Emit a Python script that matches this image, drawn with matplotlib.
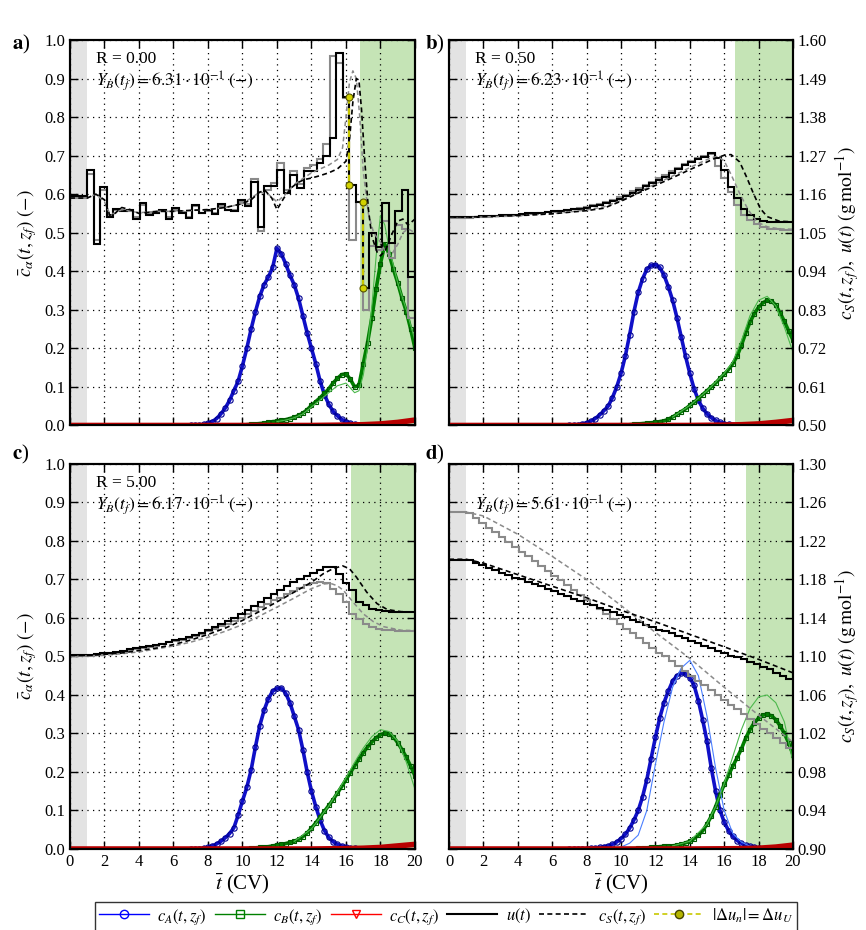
import numpy as np
import matplotlib.pyplot as plt
from matplotlib.lines import Line2D

plt.rcParams['font.family'] = ['Liberation Serif', 'DejaVu Serif']
plt.rcParams['mathtext.fontset'] = 'stix'
plt.rcParams['font.size'] = 12

# ---------------- data ----------------
# sampling times of the outlet concentrations (CV)
t_A = np.arange(7.0, 18.01, 0.25)
t_B = np.arange(10.0, 20.01, 0.25)
t_C = [0, 14, 16, 17, 18, 19, 20]
# control intervals of u(t): constant 0..1, then 50 intervals up to 20 CV
u_edges = np.concatenate(([0.0], np.linspace(1.0, 20.0, 51)))

# c_A(t, z_f)
cA_a = [0, 0, .001, .003, .006, .01, .018, .03, .045, .065,
        .09, .115, .155, .2, .25, .295, .335, .365, .385, .41,
        .46, .445, .42, .39, .365, .33, .285, .24, .2, .16,
        .115, .08, .055, .037, .025, .016, .01, .006, .004, .002,
        .001, .001, 0, 0, 0]
cA_b = [0, .001, .002, .004, .007, .011, .018, .027, .038, .05,
        .072, .1, .135, .18, .235, .295, .345, .38, .405, .415,
        .417, .41, .39, .36, .325, .28, .23, .18, .135, .095,
        .065, .045, .03, .02, .013, .008, .005, .003, .002, .001,
        0, 0, 0, 0, 0]
cA_c = [0, 0, .001, .002, .004, .008, .013, .02, .029, .04,
        .055, .088, .125, .16, .205, .265, .32, .36, .39, .41,
        .417, .418, .405, .38, .345, .31, .258, .2, .15, .11,
        .075, .048, .03, .019, .012, .008, .005, .003, .002, .001,
        0, 0, 0, 0, 0]
cA_d = [0, 0, 0, .001, .001, .002, .003, .004, .006, .008,
        .012, .018, .027, .038, .054, .075, .1, .135, .18, .235,
        .29, .34, .38, .41, .436, .45, .456, .455, .445, .425,
        .385, .335, .28, .21, .15, .101, .07, .048, .033, .022,
        .015, .01, .007, .005, .003]

# c_B(t, z_f)
cB_a = [.001, .002, .003, .004, .005, .006, .008, .01, .011, .013,
        .015, .018, .021, .026, .032, .041, .052, .062, .072, .083,
        .095, .11, .122, .132, .134, .12, .1, .104, .16, .215,
        .28, .355, .42, .47, .445, .405, .37, .33, .295, .25, .2]
cB_b = [.001, .001, .002, .003, .004, .005, .006, .007, .008, .01,
        .012, .016, .022, .029, .036, .043, .052, .06, .07, .08,
        .09, .1, .11, .122, .133, .145, .16, .18, .208, .24,
        .268, .29, .307, .318, .325, .323, .312, .292, .27, .245, .222]
cB_c = [.001, .001, .002, .003, .004, .005, .006, .008, .01, .012,
        .014, .017, .02, .025, .032, .042, .054, .068, .083, .098,
        .113, .128, .145, .162, .18, .198, .216, .234, .25, .265,
        .278, .289, .297, .301, .299, .291, .276, .258, .238, .215, .19]
cB_d = [0, 0, .001, .001, .002, .002, .003, .004, .005, .006,
        .007, .008, .008, .01, .012, .016, .02, .027, .036, .047,
        .065, .085, .11, .14, .168, .192, .215, .237, .26, .288,
        .31, .328, .34, .348, .35, .346, .336, .32, .3, .275, .245]

# thin reference lines
tBt_a = [12, 12.5, 13, 13.5, 14, 14.5, 15, 15.5, 16, 16.5, 16.75, 17.0, 17.25,
         17.5, 17.75, 18.0, 18.25, 18.5, 19.0, 19.5, 20]
cBt_a = [0.01, 0.014, 0.02, 0.03, 0.048, 0.066, 0.085, 0.103, 0.11, 0.085, 0.09,
         0.13, 0.2, 0.31, 0.44, 0.545, 0.52, 0.46, 0.37, 0.3, 0.22]
tBt_b = [13, 14, 15, 16, 16.5, 17, 17.5, 18, 18.5, 19, 19.5, 20]
cBt_b = [0.022, 0.052, 0.09, 0.135, 0.165, 0.22, 0.285, 0.325, 0.335, 0.31, 0.255, 0.19]
tBt_c = [13, 14, 15, 16, 16.5, 17, 17.5, 18, 18.5, 19, 19.5, 20]
cBt_c = [0.02, 0.052, 0.112, 0.185, 0.225, 0.262, 0.292, 0.31, 0.305, 0.28, 0.225, 0.155]
tBt_d = [13, 14, 15, 15.5, 16, 16.5, 17, 17.5, 18, 18.5, 19, 19.5, 20]
cBt_d = [0.008, 0.02, 0.065, 0.11, 0.17, 0.24, 0.31, 0.365, 0.395, 0.40, 0.38, 0.33, 0.225]
tAt_d = [9.5, 10, 10.5, 11, 11.5, 12, 12.5, 13, 13.5, 14, 14.5, 15, 15.5, 16,
         16.5, 17, 17.5, 18]
cAt_d = [0.001, 0.005, 0.015, 0.036, 0.1, 0.22, 0.33, 0.42, 0.47, 0.49, 0.45,
         0.345, 0.21, 0.1, 0.04, 0.018, 0.007, 0.003]

# c_C(t, z_f)
cC_a = [0, 0, 0.001, 0.002, 0.004, 0.008, 0.014]
cC_b = [0, 0, 0.001, 0.002, 0.004, 0.008, 0.013]
cC_c = [0, 0, 0.001, 0.002, 0.004, 0.008, 0.012]
cC_d = [0, 0, 0.0005, 0.001, 0.002, 0.005, 0.010]

# u(t) (black) and reference u(t) (grey), g/mol
u_a = [1.155,
       1.229, 1.017, 1.180, 1.094, 1.118, 1.111, 1.116, 1.089, 1.136, 1.100,
       1.105, 1.116, 1.089, 1.122, 1.105, 1.091, 1.129, 1.105, 1.114, 1.103,
       1.133, 1.116, 1.111, 1.144, 1.126, 1.195, 1.067, 1.182, 1.184, 1.229,
       1.164, 1.215, 1.177, 1.226, 1.226, 1.248, 1.270, 1.320, 1.564, 1.437,
       1.185, 1.138, 0.893, 1.050, 1.010, 1.136, 1.020, 1.112, 1.171, 0.924]
ug_a = [1.149,
        1.217, 1.028, 1.171, 1.100, 1.114, 1.116, 1.111, 1.094, 1.129, 1.105,
        1.107, 1.112, 1.094, 1.116, 1.108, 1.094, 1.125, 1.107, 1.111, 1.105,
        1.127, 1.114, 1.116, 1.138, 1.133, 1.204, 1.056, 1.171, 1.193, 1.248,
        1.171, 1.226, 1.188, 1.235, 1.243, 1.259, 1.303, 1.554, 1.534, 1.435,
        1.028, 1.138, 0.830, 1.012, 1.001, 1.083, 0.979, 1.072, 1.061, 0.808]
u_b = [1.096,
       1.095, 1.096, 1.097, 1.098, 1.099, 1.100, 1.101, 1.102, 1.104, 1.105,
       1.106, 1.107, 1.109, 1.111, 1.113, 1.115, 1.117, 1.119, 1.122, 1.126,
       1.130, 1.134, 1.140, 1.147, 1.155, 1.164, 1.173, 1.182, 1.191, 1.200,
       1.210, 1.221, 1.231, 1.242, 1.251, 1.259, 1.267, 1.277, 1.262, 1.228,
       1.181, 1.148, 1.119, 1.100, 1.088, 1.084, 1.082, 1.081, 1.081, 1.081]
ug_b = [1.093,
        1.093, 1.094, 1.095, 1.096, 1.097, 1.098, 1.099, 1.100, 1.102, 1.103,
        1.104, 1.106, 1.108, 1.110, 1.112, 1.115, 1.117, 1.120, 1.124, 1.128,
        1.133, 1.138, 1.144, 1.151, 1.159, 1.168, 1.177, 1.187, 1.196, 1.206,
        1.216, 1.226, 1.236, 1.246, 1.255, 1.263, 1.270, 1.275, 1.240, 1.205,
        1.167, 1.129, 1.100, 1.086, 1.075, 1.067, 1.062, 1.060, 1.059, 1.058]
u_c = [1.054,
       1.054, 1.057, 1.059, 1.061, 1.063, 1.067, 1.070, 1.073, 1.076, 1.080,
       1.083, 1.087, 1.092, 1.096, 1.101, 1.106, 1.112, 1.118, 1.125, 1.134,
       1.142, 1.151, 1.161, 1.172, 1.183, 1.195, 1.206, 1.218, 1.229, 1.241,
       1.252, 1.262, 1.272, 1.281, 1.289, 1.298, 1.305, 1.306, 1.287, 1.261,
       1.239, 1.206, 1.196, 1.186, 1.182, 1.179, 1.178, 1.178, 1.178, 1.178]
ug_c = [1.052,
        1.052, 1.054, 1.057, 1.059, 1.061, 1.064, 1.068, 1.071, 1.074, 1.078,
        1.081, 1.085, 1.090, 1.094, 1.098, 1.104, 1.109, 1.115, 1.122, 1.128,
        1.136, 1.144, 1.152, 1.161, 1.170, 1.180, 1.190, 1.200, 1.210, 1.218,
        1.228, 1.238, 1.247, 1.255, 1.261, 1.263, 1.259, 1.244, 1.229, 1.206,
        1.172, 1.158, 1.144, 1.135, 1.128, 1.126, 1.125, 1.124, 1.124, 1.124]
u_d = [1.200,
       1.200, 1.197, 1.195, 1.192, 1.190, 1.187, 1.185, 1.182, 1.180, 1.177,
       1.175, 1.173, 1.170, 1.168, 1.165, 1.163, 1.160, 1.158, 1.155, 1.153,
       1.150, 1.148, 1.146, 1.143, 1.141, 1.138, 1.136, 1.133, 1.131, 1.128,
       1.126, 1.124, 1.121, 1.119, 1.116, 1.114, 1.111, 1.109, 1.106, 1.104,
       1.101, 1.099, 1.097, 1.094, 1.092, 1.089, 1.087, 1.083, 1.080, 1.077]
ug_d = [1.250,
        1.249, 1.244, 1.239, 1.234, 1.229, 1.224, 1.219, 1.214, 1.209, 1.204,
        1.199, 1.194, 1.189, 1.184, 1.179, 1.174, 1.169, 1.164, 1.159, 1.154,
        1.149, 1.144, 1.139, 1.134, 1.129, 1.124, 1.119, 1.114, 1.109, 1.104,
        1.100, 1.095, 1.090, 1.085, 1.080, 1.075, 1.070, 1.065, 1.060, 1.055,
        1.050, 1.045, 1.040, 1.035, 1.030, 1.025, 1.020, 1.015, 1.010, 1.005]

# c_S(t, z_f) (black dashed) and reference (grey dashed)
ts_a = [0, 1.0, 1.5, 2.0, 2.3, 2.6, 3.0, 3.5, 4, 5, 6, 7, 8, 9, 10, 10.5, 11,
        11.3, 11.7, 12.0, 12.4, 12.8, 13.2, 13.6, 14, 14.5, 15, 15.5, 16.0, 16.2,
        16.4, 16.6, 16.75, 16.9, 17.1, 17.3, 17.5, 17.8, 18.0, 18.3, 18.6, 19.0,
        19.3, 19.6, 20]
cs_a = [1.149, 1.149, 1.160, 1.144, 1.100, 1.105, 1.122, 1.116, 1.105, 1.111,
        1.111, 1.114, 1.116, 1.122, 1.133, 1.144, 1.166, 1.171, 1.149, 1.116,
        1.149, 1.177, 1.193, 1.202, 1.206, 1.213, 1.221, 1.232, 1.254, 1.314,
        1.424, 1.490, 1.485, 1.402, 1.248, 1.116, 1.039, 0.995, 0.984, 1.001,
        1.039, 1.083, 1.089, 1.072, 1.089]
tsg_a = [0, 1, 1.5, 2.0, 2.3, 2.6, 3, 4, 5, 6, 7, 8, 9, 10, 10.5, 11, 11.5, 12.0,
         12.5, 13, 14, 15, 15.5, 15.8, 16.0, 16.2, 16.4, 16.6, 16.8, 17.0, 17.3,
         17.6, 18.0, 18.3, 18.6, 19.0, 19.3, 19.6, 20]
csg_a = [1.149, 1.149, 1.16, 1.138, 1.105, 1.105, 1.116, 1.107, 1.111, 1.111,
         1.113, 1.116, 1.122, 1.133, 1.149, 1.166, 1.16, 1.138, 1.16, 1.188,
         1.221, 1.243, 1.259, 1.292, 1.38, 1.479, 1.512, 1.49, 1.38, 1.226,
         1.105, 1.05, 1.023, 0.995, 0.984, 1.017, 1.05, 1.061, 1.05]
ts_b = [0, 1, 2, 4, 6, 8, 9, 10, 11, 12, 13, 14, 14.6, 15.4, 16.0, 16.4, 16.9,
        17.3, 17.7, 18.1, 18.5, 19.2, 20]
cs_b = [1.095, 1.095, 1.096, 1.099, 1.104, 1.113, 1.12, 1.14, 1.163, 1.185, 1.207,
        1.23, 1.243, 1.261, 1.271, 1.273, 1.252, 1.209, 1.162, 1.119, 1.096, 1.083,
        1.081]
tsg_b = [0, 1, 2, 4, 6, 8, 9, 10, 11, 12, 13, 14, 14.6, 15.2, 15.6, 16.0, 16.4,
         16.9, 17.4, 17.9, 18.5, 19.2, 20]
csg_b = [1.093, 1.093, 1.095, 1.098, 1.104, 1.115, 1.124, 1.142, 1.166, 1.189,
         1.212, 1.236, 1.25, 1.263, 1.268, 1.255, 1.216, 1.162, 1.115, 1.081,
         1.067, 1.061, 1.06]
ts_c = [0, 1, 2, 3, 4, 5, 6, 7, 8, 9, 10, 11, 12, 13, 14, 14.7, 15.25, 15.8, 16.2,
        16.6, 17.2, 17.8, 18.4, 19.2, 20]
cs_c = [1.053, 1.053, 1.056, 1.060, 1.067, 1.074, 1.084, 1.097, 1.113, 1.131,
        1.153, 1.179, 1.206, 1.234, 1.262, 1.287, 1.301, 1.309, 1.301, 1.277,
        1.234, 1.201, 1.184, 1.178, 1.177]
tsg_c = [0, 1, 2, 4, 6, 7, 8, 9, 10, 11, 12, 13, 14, 14.7, 15.1, 15.5, 15.85,
         16.4, 17.0, 17.6, 18.2, 19.2, 20]
csg_c = [1.052, 1.052, 1.053, 1.063, 1.080, 1.091, 1.105, 1.122, 1.141, 1.166,
         1.191, 1.217, 1.244, 1.257, 1.259, 1.252, 1.239, 1.206, 1.172, 1.149,
         1.135, 1.125, 1.124]
ts_d = [0, 1, 2, 4, 6, 8, 10, 12, 14, 16, 18, 20]
cs_d = [1.201, 1.201, 1.197, 1.185, 1.173, 1.161, 1.148, 1.136, 1.123, 1.110,
        1.097, 1.083]
csg_d = [1.25, 1.25, 1.246, 1.227, 1.204, 1.18, 1.153, 1.125, 1.098, 1.068,
         1.039, 1.011]

# |du_n| = du_U jumps in panel a
jump_t = [16.20, 16.96]
jump_hi = [1.437, 1.138]
jump_lo = [1.185, 0.893]

pool_start = [16.8, 16.6, 16.3, 17.25]
R_text = ['0.00', '0.50', '5.00', None]
YB_text = ['6.31', '6.23', '6.17', '5.61']
right_ticks_b = [0.50, 0.61, 0.72, 0.83, 0.94, 1.05, 1.16, 1.27, 1.38, 1.49, 1.60]
right_ticks_d = [0.90, 0.94, 0.98, 1.02, 1.06, 1.10, 1.14, 1.18, 1.22, 1.26, 1.30]

# ---------------- figure ----------------
BLUE, GREEN, RED = '#1010c8', '#008000', '#b80000'
GREY = '#8a8a8a'

fig = plt.figure(figsize=(8.66, 9.30), dpi=100)
boxes = [[0.0808, 0.5425, 0.3984, 0.4145], [0.5185, 0.5425, 0.3972, 0.4145],
         [0.0808, 0.0871, 0.3984, 0.4140], [0.5185, 0.0871, 0.3972, 0.4140]]

panels = [
    (cA_a, cB_a, None, (tBt_a, cBt_a), cC_a, u_a, ug_a, (ts_a, cs_a), (tsg_a, csg_a), right_ticks_b),
    (cA_b, cB_b, None, (tBt_b, cBt_b), cC_b, u_b, ug_b, (ts_b, cs_b), (tsg_b, csg_b), right_ticks_b),
    (cA_c, cB_c, None, (tBt_c, cBt_c), cC_c, u_c, ug_c, (ts_c, cs_c), (tsg_c, csg_c), right_ticks_b),
    (cA_d, cB_d, (tAt_d, cAt_d), (tBt_d, cBt_d), cC_d, u_d, ug_d, (ts_d, cs_d), (ts_d, csg_d), right_ticks_d),
]

for i, (cA, cB, thinA, thinB, cC, u, ug, cs, csg, rt) in enumerate(panels):
    ax = fig.add_axes(boxes[i])
    ax.axvspan(0, 1, color='#e3e3e3', lw=0, zorder=0)
    ax.axvspan(pool_start[i], 20, color='#c5e4b6', lw=0, zorder=0)
    ax.grid(True, color='k', ls=(0, (1, 3.5)), lw=0.9)

    ax.plot(t_A, cA, color=BLUE, lw=2.6, marker='o', ms=3.8, mfc='none',
            mec='#000090', mew=0.8, zorder=2)
    ax.plot(t_B, cB, color=GREEN, lw=2.6, marker='s', ms=3.5, mfc='none',
            mec='#005a00', mew=0.8, zorder=2)
    if thinA is not None:
        ax.plot(thinA[0], thinA[1], color='#4a7fff', lw=0.8, zorder=3)
    ax.plot(thinB[0], thinB[1], color='#4cb84c', lw=0.8, zorder=3)
    ax.plot(t_C, cC, color=RED, lw=4, zorder=4, solid_capstyle='butt')

    ax.set_xlim(0, 20)
    ax.set_ylim(0, 1)
    ax.set_xticks(range(0, 21, 2))
    ax.set_yticks(np.arange(0, 1.01, 0.1))
    ax.yaxis.set_major_formatter('{x:.1f}')
    ax.tick_params(direction='in', length=6, width=1, top=True, labelsize=12)
    for s in ax.spines.values():
        s.set_linewidth(1.5)

    ax2 = ax.twinx()
    ax2.stairs(ug, u_edges, baseline=None, color=GREY, lw=1.5)
    ax2.stairs(u, u_edges, baseline=None, color='k', lw=1.5)
    ax2.plot(csg[0], csg[1], color=GREY, lw=1.1, ls=(0, (3, 2)))
    ax2.plot(cs[0], cs[1], color='k', lw=1.2, ls=(0, (3, 2)))
    if i == 0:
        for tj, hi, lo in zip(jump_t, jump_hi, jump_lo):
            ax2.plot([tj, tj], [hi, lo], color='#c8c800', lw=1.6, ls=(0, (3, 2)),
                     marker='o', ms=5, mfc='#d2d200', mec='#555500', mew=0.8)
    ax2.set_ylim(rt[0], rt[-1])
    ax2.set_yticks(rt)
    ax2.yaxis.set_major_formatter('{x:.2f}')
    for s in ax2.spines.values():
        s.set_linewidth(1.5)

    if i in (0, 2):
        ax.tick_params(right=True)
        ax2.tick_params(right=False, labelright=False)
        ax.set_ylabel(r'$\bar{c}_\alpha(t,z_f)\ (-)$', fontsize=14, labelpad=4)
    else:
        ax.tick_params(labelleft=False)
        ax2.tick_params(direction='in', length=6, width=1, labelsize=12)
        ax2.set_ylabel(r'$c_S(t,z_f),\ u(t)\ (\mathrm{g\,mol}^{-1})$', fontsize=14,
                       labelpad=4)
    if i in (0, 1):
        ax.tick_params(labelbottom=False)
    else:
        ax.set_xlabel(r'$\bar{t}$ (CV)', fontsize=15, labelpad=2)

    if R_text[i] is not None:
        ax.text(1.5, 0.95, 'R = ' + R_text[i], fontsize=12.5, va='center', zorder=1)
    ax.text(1.5, 0.895, r'$Y_B(t_f) = %s\cdot10^{-1}\ (-)$' % YB_text[i],
            fontsize=12.5, va='center', zorder=1)

for lab, x, y in [('a', 0.014, 0.952), ('b', 0.491, 0.952),
                  ('c', 0.014, 0.511), ('d', 0.491, 0.511)]:
    fig.text(x, y, r'$\mathbf{%s}$)' % lab, fontsize=15, va='center')

handles = [
    Line2D([], [], color='b', marker='o', mfc='none', mec='b', lw=1),
    Line2D([], [], color=GREEN, marker='s', mfc='none', mec=GREEN, lw=1),
    Line2D([], [], color='r', marker='v', mfc='none', mec='r', lw=1),
    Line2D([], [], color='k', lw=1.5),
    Line2D([], [], color='k', lw=1.2, ls=(0, (3, 2))),
    Line2D([], [], color='#c8c800', lw=1.2, ls=(0, (3, 2)), marker='o',
           mfc='#b5b500', mec='#444400'),
]
labels = [r'$c_A(t,z_f)$', r'$c_B(t,z_f)$', r'$c_C(t,z_f)$', r'$u(t)$',
          r'$c_S(t,z_f)$', r'$|\Delta u_n| = \Delta u_U$']
leg = fig.legend(handles, labels, loc='center', bbox_to_anchor=(0.515, 0.0145),
                 ncol=6, fontsize=12, frameon=True, fancybox=False,
                 edgecolor='k', handlelength=3.0, handletextpad=0.5,
                 columnspacing=0.5, borderpad=0.25, borderaxespad=0)
leg.get_frame().set_linewidth(1.0)

fig.savefig('out.png', dpi=100)
